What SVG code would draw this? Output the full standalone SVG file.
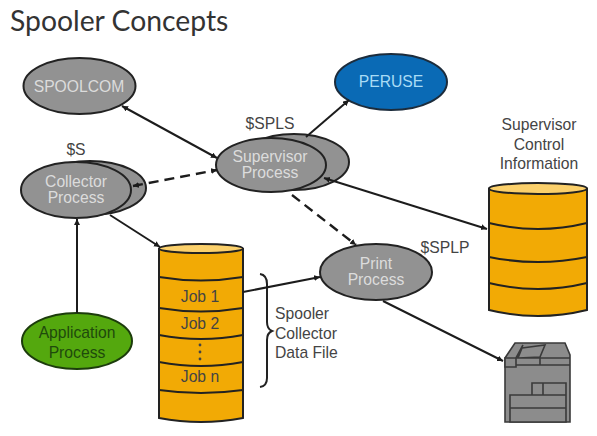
<svg xmlns="http://www.w3.org/2000/svg" width="597" height="436" viewBox="0 0 597 436">
<style>
text{font-family:"Liberation Sans",Arial,sans-serif;font-size:15.700px;text-anchor:middle}
.g{fill:#929292;stroke:#222;stroke-width:2}
.w{fill:#dcdcdc}
.d{fill:#444}
.o{fill:#f2aa05;stroke:#222;stroke-width:2}
.t{fill:#fbd06b;stroke:#222;stroke-width:2}
.l{fill:none;stroke:#222;stroke-width:2}
.c{fill:none;stroke:#1c1c1c;stroke-width:2}
.h{stroke-dasharray:10 6;stroke-width:2.400}
.p{fill:#8c8c8c;stroke:#3a3a3a;stroke-width:1.600}
</style>
<defs>
<marker id="a" markerWidth="7" markerHeight="7" refX="6" refY="3" orient="auto-start-reverse" markerUnits="userSpaceOnUse"><path d="M0 0L6 3L0 6Z" fill="#1c1c1c"/></marker>
</defs>
<rect width="597" height="436" fill="#fff"/>
<text x="10" y="31" style="font-size:28.300px;text-anchor:start;font-family:Lato,sans-serif" fill="#333">Spooler Concepts</text>
<g id="spoolcom"><ellipse class="g" cx="79.500" cy="86" rx="56" ry="28"/><text class="w" x="79" y="91.500">SPOOLCOM</text></g>
<g id="peruse"><ellipse cx="391" cy="82" rx="56" ry="28" fill="#0a6ab5" stroke="#1c2c3c" stroke-width="2"/><text x="391" y="87" fill="#a9dcf5">PERUSE</text></g>
<g id="collector"><ellipse class="g" cx="90" cy="188" rx="56" ry="27"/><ellipse class="g" cx="76" cy="190" rx="55" ry="28"/><text class="w" x="76" y="186.500">Collector</text><text class="w" x="76" y="202.500">Process</text><text class="d" x="76" y="155">$S</text></g>
<g id="supervisor"><ellipse class="g" cx="294" cy="162" rx="55" ry="28"/><ellipse class="g" cx="271" cy="165" rx="55" ry="27"/><text class="w" x="270" y="161.500">Supervisor</text><text class="w" x="270" y="177.500">Process</text><text class="d" x="270" y="129">$SPLS</text></g>
<g id="print"><ellipse class="g" cx="376" cy="272" rx="56" ry="28"/><text class="w" x="376" y="268.500">Print</text><text class="w" x="376" y="285">Process</text><text class="d" x="445" y="253">$SPLP</text></g>
<g id="application"><ellipse cx="77" cy="341" rx="55" ry="28" fill="#54a80e" stroke="#1c3c0c" stroke-width="2"/><text x="77" y="338" fill="#1f4a0c">Application</text><text x="77" y="357.500" fill="#1f4a0c">Process</text></g>
<g id="supervisor-store">
<path class="o" d="M489 189V310Q538 322 587 310V189Z"/>
<ellipse class="t" cx="538" cy="188.500" rx="49" ry="5.500"/>
<path class="l" d="M489 223Q538 235 587 223M489 257Q538 267 587 257M489 283Q538 295 587 283"/>
<text class="d" x="539" y="130">Supervisor</text><text class="d" x="539" y="150">Control</text><text class="d" x="539" y="169">Information</text>
</g>
<g id="data-file">
<path class="o" d="M159 249V418Q201 426 243 418V249Z"/>
<ellipse class="t" cx="201" cy="248.500" rx="42" ry="4.500"/>
<path class="l" d="M159 277Q201 284 243 277M159 308Q201 315 243 308M159 335Q201 343 243 335M159 362Q201 370 243 362M159 390Q201 396 243 390"/>
<text class="d" x="200" y="302">Job 1</text><text class="d" x="200" y="329">Job 2</text><text class="d" x="200" y="382">Job n</text>
<circle class="d" cx="200" cy="345" r="1.400"/><circle class="d" cx="200" cy="352" r="1.400"/><circle class="d" cx="200" cy="359" r="1.400"/>
</g>
<g id="brace"><path class="l" d="M260 274Q267 275 267 284V322Q267 329 272 331Q267 333 267 340V378Q267 386 260 387"/><text class="d" style="text-anchor:start" x="275" y="319">Spooler</text><text class="d" style="text-anchor:start" x="275" y="339">Collector</text><text class="d" style="text-anchor:start" x="275" y="358">Data File</text></g>
<g id="printer">
<path class="p" d="M505 358L515 343H565L570 355V422H505Z"/>
<path class="p" d="M505 358H516V367H505ZM516 358L523 345M522 348L545 345L540 357L518 358ZM516 358H570M516 365H570M540 358V365"/>
<path class="p" d="M532 383H566V395H532ZM543 383V395M510 395H566V408H510ZM510 408H566V422H510Z"/>
</g>
<g id="connectors">
<path class="c" d="M122 106L217 158" marker-start="url(#a)" marker-end="url(#a)"/>
<path class="c h" d="M133 186L217 170" marker-start="url(#a)" marker-end="url(#a)"/>
<path class="c" d="M77 313V219" marker-end="url(#a)"/>
<path class="c" d="M110 215L160 247" marker-end="url(#a)"/>
<path class="c" d="M306 137L349 100" marker-end="url(#a)"/>
<path class="c" d="M324 178L487 229" marker-start="url(#a)" marker-end="url(#a)"/>
<path class="c h" d="M292 195L356 245" marker-end="url(#a)"/>
<path class="c" d="M243 292L320 277" marker-end="url(#a)"/>
<path class="c" d="M383 301L503 361" marker-end="url(#a)"/>
</g>
</svg>
